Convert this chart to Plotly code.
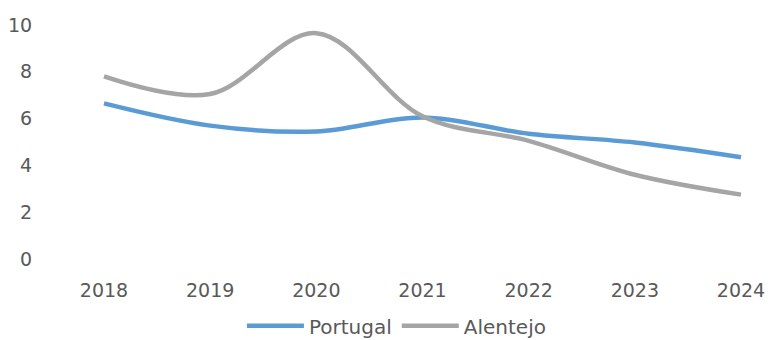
import plotly.graph_objects as go

years = [2018, 2019, 2020, 2021, 2022, 2023, 2024]
portugal = [6.65, 5.7, 5.45, 6.05, 5.35, 4.98, 4.35]
alentejo = [7.8, 7.05, 9.65, 6.1, 5.05, 3.6, 2.75]
y_ticks = [0, 2, 4, 6, 8, 10]

font_family = "DejaVu Sans"
text_color = "#595959"

fig = go.Figure()
fig.add_trace(go.Scatter(x=years, y=portugal, name="Portugal", mode="lines",
                         line=dict(color="#5B9BD5", width=4.5, shape="spline", smoothing=1)))
fig.add_trace(go.Scatter(x=years, y=alentejo, name="Alentejo", mode="lines",
                         line=dict(color="#A5A5A5", width=4.5, shape="spline", smoothing=1)))

fig.update_layout(
    width=758, height=332,
    margin=dict(l=37, r=10, t=17, b=81, autoexpand=False),
    plot_bgcolor="white", paper_bgcolor="white",
    font=dict(family=font_family, size=19, color=text_color),
    showlegend=True,
    legend=dict(orientation="h", x=0.495, xanchor="center", y=-0.285, yanchor="middle",
                font=dict(size=20, color=text_color), itemwidth=57, tracegroupgap=0),
    xaxis=dict(range=[2017.4443, 2024.1413], tickmode="array", tickvals=years,
               ticktext=[str(y) for y in years], showgrid=False, zeroline=False,
               showline=False, ticks="outside", ticklen=14, tickcolor="white",
               automargin=False, ticklabeloverflow="allow"),
    yaxis=dict(range=[0, 10], tickmode="array", tickvals=y_ticks,
               showgrid=False, zeroline=False, showline=False,
               ticks="outside", ticklen=8, tickcolor="white", automargin=False),
)

fig.write_html("out.html")
